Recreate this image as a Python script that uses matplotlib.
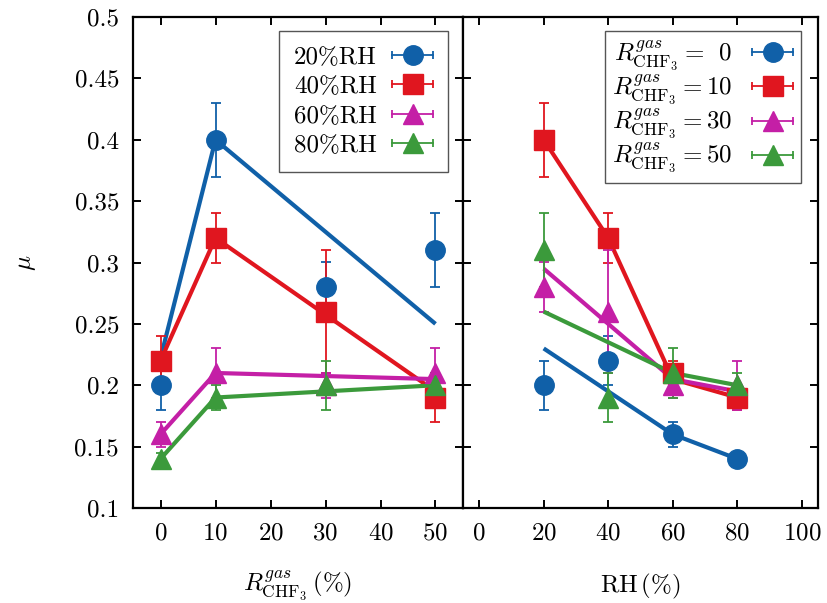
import matplotlib
matplotlib.use("Agg")
import matplotlib.pyplot as plt
from matplotlib.lines import Line2D
from matplotlib.legend_handler import HandlerBase
from matplotlib.ticker import FuncFormatter

# left panel: mu vs R_CHF3 gas ratio, one series per humidity
x_gas = [0, 10, 30, 50]
mu_rh20 = [0.20, 0.40, 0.28, 0.31]; err_rh20 = [0.02, 0.03, 0.02, 0.03]
mu_rh40 = [0.22, 0.32, 0.26, 0.19]; err_rh40 = [0.02, 0.02, 0.05, 0.02]
mu_rh60 = [0.16, 0.21, 0.20, 0.21]; err_rh60 = [0.01, 0.02, 0.01, 0.02]
mu_rh80 = [0.14, 0.19, 0.20, 0.20]; err_rh80 = [0.005, 0.01, 0.02, 0.01]
# guide lines drawn over the left panel
fit_x_gas = [0, 10, 50]
fit_rh20 = [0.222, 0.40, 0.25]
fit_rh40 = [0.22, 0.32, 0.195]
fit_rh60 = [0.16, 0.21, 0.205]
fit_rh80 = [0.14, 0.19, 0.20]

# right panel: mu vs RH, one series per gas ratio
x_rh = [20, 40, 60, 80]
mu_g0 = [0.20, 0.22, 0.16, 0.14]; err_g0 = [0.02, 0.02, 0.01, 0.005]
mu_g10 = [0.40, 0.32, 0.21, 0.19]; err_g10 = [0.03, 0.02, 0.01, 0.01]
mu_g30 = [0.28, 0.26, 0.20, 0.20]; err_g30 = [0.02, 0.05, 0.01, 0.02]
mu_g50 = [0.31, 0.19, 0.21, 0.20]; err_g50 = [0.03, 0.02, 0.02, 0.01]
fit_x_rh = [20, 60, 80]
fit_x_rh10 = [20, 40, 60, 80]
fit_g0 = [0.23, 0.16, 0.14]
fit_g10 = [0.40, 0.32, 0.205, 0.19]
fit_g30 = [0.295, 0.205, 0.195]
fit_g50 = [0.26, 0.21, 0.20]

labels_left = ["20%RH", "40%RH", "60%RH", "80%RH"]
labels_right = [r"$R^{gas}_{\mathrm{CHF_3}}=\enspace0$", r"$R^{gas}_{\mathrm{CHF_3}}=10$",
                r"$R^{gas}_{\mathrm{CHF_3}}=30$", r"$R^{gas}_{\mathrm{CHF_3}}=50$"]

colors = ["#1060a8", "#e0161f", "#c41fa6", "#3b9a3b"]
markers = ["o", "s", "^", "^"]
msizes = [14, 14, 14, 14]

plt.rcParams["font.family"] = "serif"
plt.rcParams["font.serif"] = ["cmr10"]
plt.rcParams["mathtext.fontset"] = "cm"
plt.rcParams["axes.unicode_minus"] = False
plt.rcParams["axes.formatter.use_mathtext"] = True


class HandlerHBar(HandlerBase):
    # gnuplot-style key: horizontal bar with caps and the marker in the middle
    def create_artists(self, legend, h, xd, yd, w, ht, fs, trans):
        y = ht / 2 - yd
        c = h.get_color()
        ln = Line2D([-xd, w - xd], [y, y], color=c, lw=1.3)
        cp = Line2D([-xd, w - xd], [y, y], ls="none", marker="|", ms=6, mew=1.3, color=c)
        mk = Line2D([w / 2 - xd], [y], ls="none", marker=h.get_marker(), ms=h.get_markersize(), color=c)
        for a in (ln, cp, mk):
            a.set_transform(trans)
        return [ln, cp, mk]


fig = plt.figure(figsize=(8.27, 6.03), dpi=100)
W, H = 827, 603
axL = fig.add_axes([133 / W, 1 - 508 / H, 330 / W, 491 / H])
axR = fig.add_axes([463 / W, 1 - 508 / H, 355 / W, 491 / H], sharey=axL)

left_sets = [(mu_rh20, err_rh20, fit_x_gas, fit_rh20), (mu_rh40, err_rh40, fit_x_gas, fit_rh40),
             (mu_rh60, err_rh60, fit_x_gas, fit_rh60), (mu_rh80, err_rh80, fit_x_gas, fit_rh80)]
right_sets = [(mu_g0, err_g0, fit_x_rh, fit_g0), (mu_g10, err_g10, fit_x_rh10, fit_g10),
              (mu_g30, err_g30, fit_x_rh, fit_g30), (mu_g50, err_g50, fit_x_rh, fit_g50)]

for ax, xs, sets in ((axL, x_gas, left_sets), (axR, x_rh, right_sets)):
    for (mu, err, fx, fy), c, m, ms in zip(sets, colors, markers, msizes):
        ax.plot(fx, fy, color=c, lw=3, solid_capstyle="butt")
        ax.errorbar(xs, mu, yerr=err, fmt=m, color=c, ms=ms, elinewidth=1.3,
                    capsize=3.5, capthick=1.3)

axL.set_xlim(-5, 55)
axR.set_xlim(-5, 105)
axL.set_ylim(0.1, 0.5)
axL.set_xticks([0, 10, 20, 30, 40, 50])
axR.set_xticks([0, 20, 40, 60, 80, 100])
axL.set_yticks([0.1, 0.15, 0.2, 0.25, 0.3, 0.35, 0.4, 0.45, 0.5])
axL.yaxis.set_major_formatter(FuncFormatter(lambda v, p: f"{v:g}"))

for ax in (axL, axR):
    ax.tick_params(direction="in", top=True, right=True, length=6, width=1.4,
                   labelsize=18, pad=10)
    for s in ax.spines.values():
        s.set_linewidth(1.6)
axR.tick_params(labelleft=False)

axL.set_ylabel(r"$\mu$", fontsize=18, labelpad=26)
axL.set_xlabel(r"$R^{gas}_{\mathrm{CHF_3}}\,(\%)$", fontsize=18, labelpad=18)
axR.set_xlabel(r"$\mathrm{RH}\,(\%)$", fontsize=18, labelpad=20)

legend_opts = [(axL, labels_left, (0.955, 0.971), 18, 0.28, 0.6, 0.6),
               (axR, labels_right, (0.952, 0.971), 18, 0.0, 0.3, 0.8)]
for ax, labs, anchor, fs, spacing, bpad, tpad in legend_opts:
    handles = [Line2D([], [], color=c, marker=m, ms=ms) for c, m, ms in zip(colors, markers, msizes)]
    leg = ax.legend(handles, labs, loc="upper right", bbox_to_anchor=anchor, borderaxespad=0,
                    markerfirst=False, fontsize=fs, handlelength=1.65, handletextpad=tpad,
                    labelspacing=spacing, borderpad=bpad, fancybox=False, framealpha=1,
                    handler_map={Line2D: HandlerHBar()})
    leg.get_frame().set_edgecolor("#555555")
    leg.get_frame().set_linewidth(1.0)

fig.savefig("out.png", dpi=100)
